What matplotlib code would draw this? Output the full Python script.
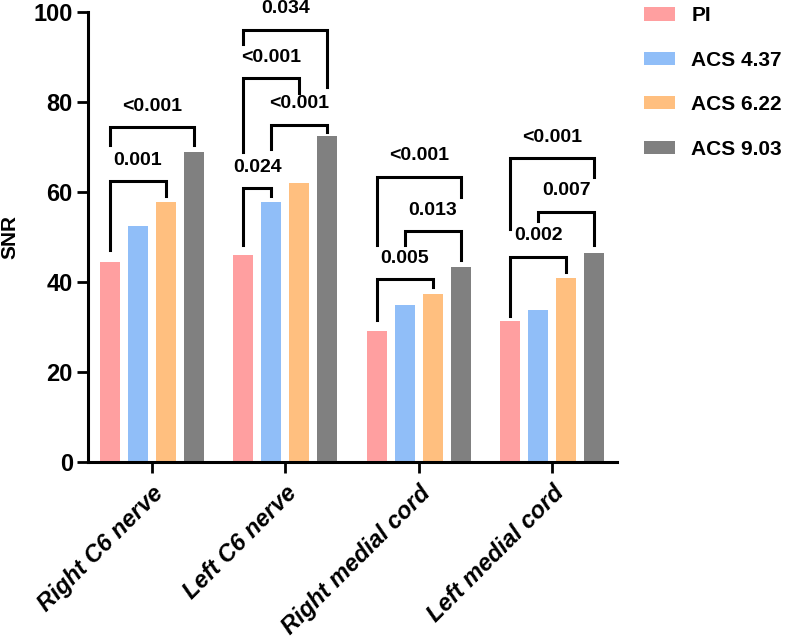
import numpy as np
import matplotlib.pyplot as plt
from matplotlib.patches import Patch

plt.rcParams['font.family'] = ['Liberation Sans', 'DejaVu Sans']
plt.rcParams['font.weight'] = 'bold'

regions = ['Right C6 nerve', 'Left C6 nerve', 'Right medial cord', 'Left medial cord']
series = ['PI', 'ACS 4.37', 'ACS 6.22', 'ACS 9.03']
colors = ['#FF9FA0', '#90BEF8', '#FFBF7F', '#808080']

pi_vals = [44.5, 46.1, 29.2, 31.4]
acs437_vals = [52.4, 57.9, 35.0, 33.8]
acs622_vals = [57.9, 62.1, 37.3, 40.8]
acs903_vals = [68.8, 72.4, 43.3, 46.5]

# significance brackets: group, bar from, bar to, bar top, left leg end, right leg end, p text
br_group = [0, 0, 1, 1, 1, 1, 2, 2, 2, 3, 3, 3]
br_from = [0, 0, 0, 0, 1, 0, 0, 1, 0, 0, 1, 0]
br_to = [2, 3, 1, 2, 3, 3, 2, 3, 3, 2, 3, 3]
br_top = [62.4, 74.4, 60.8, 85.3, 75.0, 96.0, 40.6, 51.3, 63.4, 45.6, 55.6, 67.5]
br_left = [47.1, 70.4, 48.2, 69.0, 69.6, 93.0, 31.6, 48.2, 48.2, 32.4, 53.6, 51.9]
br_right = [59.2, 70.4, 59.1, 82.1, 73.4, 83.4, 38.8, 45.0, 58.8, 42.3, 48.2, 63.4]
br_text = ['0.001', '<0.001', '0.024', '<0.001', '<0.001', '0.034',
           '0.005', '0.013', '<0.001', '0.002', '0.007', '<0.001']

values = [pi_vals, acs437_vals, acs622_vals, acs903_vals]
offsets = [-0.315, -0.105, 0.105, 0.315]
width = 0.15

fig = plt.figure(figsize=(7.86, 6.39), dpi=100)
ax = fig.add_axes([0.112, 0.277, 0.673, 0.704])

x = np.arange(len(regions))
for k in range(4):
    ax.bar(x + offsets[k], values[k], width, color=colors[k], label=series[k], zorder=2)

for i in range(len(br_text)):
    x0 = br_group[i] + offsets[br_from[i]]
    x1 = br_group[i] + offsets[br_to[i]]
    ax.plot([x0, x0, x1, x1], [br_left[i], br_top[i], br_top[i], br_right[i]],
            color='black', lw=2.2, solid_joinstyle='miter', clip_on=False, zorder=3)
    ax.text((x0 + x1) / 2, br_top[i] + 4.7, br_text[i], ha='center', va='center',
            fontsize=14, fontweight='bold', clip_on=False)

ax.set_xlim(-0.477, 3.485)
ax.set_ylim(0, 100)
ax.set_yticks([0, 20, 40, 60, 80, 100])
ax.set_xticks(x)
ax.set_xticklabels(regions, rotation=45, ha='right', va='top', rotation_mode='anchor',
                   fontsize=17, fontstyle='italic', fontweight='bold')
ax.tick_params(axis='y', labelsize=17, width=2, length=8, pad=3)
ax.tick_params(axis='x', width=2, length=8, pad=6)
ax.set_ylabel('SNR', fontsize=15, fontweight='bold', labelpad=10)

for s in ['top', 'right']:
    ax.spines[s].set_visible(False)
for s in ['left', 'bottom']:
    ax.spines[s].set_linewidth(2.2)

handles = [Patch(facecolor=c) for c in colors]
fig.legend(handles, series, loc='upper left', bbox_to_anchor=(0.819, 0.99),
           frameon=False, handlelength=1.5, handleheight=0.6,
           handletextpad=0.78, labelspacing=1.22, borderpad=0, borderaxespad=0,
           prop={'weight': 'bold', 'size': 15})

fig.savefig('out.png', dpi=100)
